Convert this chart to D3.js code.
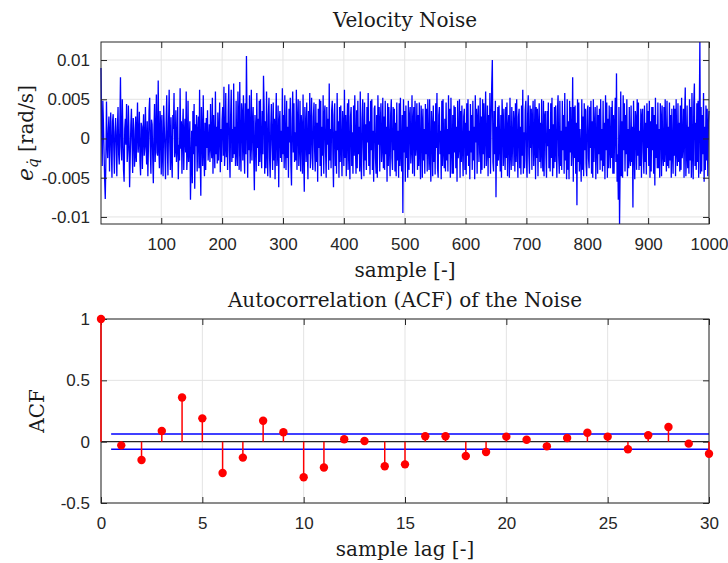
<!DOCTYPE html>
<html>
<head>
<meta charset="utf-8">
<script src="https://cdn.jsdelivr.net/npm/d3@7"></script>
<style>
  body { margin: 0; background: #fff; }
  svg { display: block; }
  .tick text { font-family: "Liberation Sans", Arial, sans-serif; font-size: 17px; fill: #262626; }
  .ttl { font-family: "DejaVu Serif", "Liberation Serif", serif; font-size: 20px; fill: #1a1a1a; }
</style>
</head>
<body>
<div id="chart"></div>
<script>
// velocity noise, in units of 1e-4 rad/s (samples 1..1000)
var NOISE_UNIT = 1e-4;
var noise = [
90,12,-35,48,20,-18,-52,-77,-30,47,-8,-25,10,28,-42,5,33,-15,-50,22,
31,-12,-45,8,26,-5,-48,14,40,-20,-33,18,78,-10,-28,50,6,-40,-55,12,
25,-8,44,-30,-15,42,3,-62,-25,17,38,-5,-44,26,11,-36,-20,28,-30,9,
46,-18,-3,34,-28,-47,20,15,-39,7,31,-22,-11,40,-6,-33,22,-48,-8,36,
52,-14,-45,24,18,-25,-57,10,44,-30,5,56,-18,-22,74,-12,-38,35,18,-46,
30,-20,-48,42,15,-15,-52,20,55,-10,-47,20,62,-5,-40,27,-22,-50,30,12,
58,-24,-15,36,-30,-10,40,-52,-8,-28,64,-13,22,-45,12,38,-40,5,25,-18,
60,-40,-18,48,-30,-10,22,-78,-32,10,-57,35,-20,44,-64,18,-10,30,-42,5,
28,-38,62,-22,-73,40,8,-35,55,-15,-48,20,-40,26,-12,36,-28,-8,18,-30,
44,-10,-25,52,-45,30,-5,-38,60,-20,15,-32,33,-28,8,46,-43,12,-30,24,
40,-22,66,-35,-10,58,-24,20,-40,35,69,-15,-50,28,62,-30,12,-25,70,-20,
15,-35,48,-18,-35,60,25,-40,72,-12,-42,45,30,-28,55,-8,-45,45,-20,105,
20,-50,38,-15,55,-32,-5,62,-28,16,40,-25,-66,30,8,-42,58,-12,25,-35,
48,-30,50,-10,-38,35,-20,80,40,-45,22,-38,60,-15,-48,30,52,-25,-50,18,
44,-8,-40,46,-28,25,-52,12,58,-35,-18,42,-62,20,35,-25,10,-30,64,-20,
30,-38,55,-12,-40,48,-25,15,-50,38,-5,52,-33,-60,25,60,-18,45,-30,8,
-28,62,-40,20,50,-35,-10,48,-42,30,12,-45,56,-20,-68,40,15,-30,46,-8,
-52,35,-20,58,-38,10,52,-25,-40,28,46,-15,-42,44,-30,20,-55,38,-12,50,
-35,48,-48,15,-22,55,-45,30,42,-18,-50,40,-8,25,-40,70,-28,12,-38,36,
48,-20,-62,30,45,-35,10,-45,58,-15,22,-50,40,-30,42,-10,-48,35,15,-35,
62,-25,30,-48,12,45,-40,50,-18,-52,28,40,-35,8,-45,42,-22,55,-10,-45,
36,-38,48,-20,15,-42,60,-30,-52,25,50,-12,-48,46,-28,18,-40,40,-5,58,
-35,22,-46,48,-15,50,-40,10,-55,38,42,-25,-45,30,-50,55,-8,40,-42,20,
45,-30,-12,52,-38,28,-40,48,-20,15,-55,45,-35,40,-10,-48,32,50,-25,-40,
40,-15,38,-42,20,-48,46,-28,10,-50,45,-35,52,-20,-42,30,-95,50,-18,35,
-55,42,-25,15,-50,48,-40,28,40,-32,-12,55,-45,20,40,-48,48,-22,-8,45,
-40,30,-35,46,-15,-52,42,20,-50,38,-28,12,-45,44,-20,38,-42,50,-10,-40,
50,-25,-55,35,15,-48,42,-30,22,-46,45,-12,58,-38,-50,30,40,-20,10,-52,
48,-35,50,-15,-38,25,-42,46,-28,12,-42,55,-20,38,-50,52,-10,-45,30,-45,
42,-18,40,-38,15,-55,48,-25,-8,50,-50,35,-30,42,-12,-48,28,38,-40,20,
-46,45,-22,50,-35,10,-52,44,-18,30,-40,48,-28,15,-52,55,-5,38,-45,25,
42,-30,-10,52,-45,28,-40,50,-20,45,-38,12,60,-35,-15,42,-48,30,-25,58,
-45,20,68,100,-30,-42,35,-20,48,-75,15,-35,40,-28,42,-10,-42,30,-50,50,
22,-35,38,-15,-40,40,-25,46,-48,12,30,-50,52,-18,-40,40,-8,-35,35,20,
-42,45,-30,50,-12,-50,28,38,-38,15,-46,42,-22,62,-45,8,-38,36,48,-28,
-50,30,55,-20,-45,42,-12,38,-40,25,48,-35,-8,50,-52,40,-25,38,-48,15,
45,-30,20,-38,50,-15,-42,48,-48,28,35,-20,-50,35,-10,46,-38,12,-42,45,
-25,52,-48,18,-38,40,-30,42,-12,-50,35,55,-22,-45,48,-35,10,-40,48,-15,
30,-45,58,-28,15,-52,50,-40,22,-52,48,-18,40,-35,-8,78,-55,40,-25,42,
-45,20,-85,50,-30,46,-42,12,-20,-55,50,-40,28,-48,45,-15,38,-32,-48,35,
42,-25,-38,40,-12,48,-45,22,-50,50,-30,15,40,-52,-8,42,-45,30,-20,38,
-40,50,-28,12,-42,48,-35,20,-52,55,-15,46,-50,25,-38,42,-10,-38,40,-25,
48,-45,30,-45,15,52,-30,83,-55,-20,-78,40,-109,-35,60,-48,22,-50,55,-15,
45,-42,30,-20,50,-48,12,-38,40,-25,-35,42,-30,15,-88,48,-10,-52,35,25,
-40,50,-22,46,-40,10,-35,38,-50,28,38,-18,-45,42,-30,20,-46,45,-12,35,
-35,48,-50,22,-42,40,-15,40,-45,30,-60,52,-25,18,-38,46,-38,12,-50,45,
25,-48,42,-20,-35,40,-30,50,-12,-42,48,-35,15,-38,46,-28,30,-50,38,-18,
-45,42,-22,38,-48,50,-15,-35,45,-30,20,-42,42,-40,52,-25,-8,38,-50,30,
65,-48,-20,42,-38,15,-45,50,-28,40,-50,58,-15,-52,46,70,-35,20,-40,45,
-30,48,-50,25,123,-45,40,-42,30,-20,58,-55,15,-40,42,-28,38,-48,20,35
];

// autocorrelation, lags 0..30
var lags = d3.range(0, 31);
var acf = [1, -0.03, -0.15, 0.087, 0.36, 0.19, -0.255, -0.13, 0.17, 0.077,
  -0.29, -0.21, 0.02, 0.006, -0.2, -0.185, 0.044, 0.044, -0.117, -0.084,
  0.041, 0.016, -0.038, 0.03, 0.073, 0.041, -0.062, 0.052, 0.12, -0.016, -0.098];
var confBound = 0.062;

var topXTicks = [100, 200, 300, 400, 500, 600, 700, 800, 900, 1000];
var topYTicks = [-0.01, -0.005, 0, 0.005, 0.01];
var botXTicks = [0, 5, 10, 15, 20, 25, 30];
var botYTicks = [-0.5, 0, 0.5, 1];

const WIDTH = 728;
const HEIGHT = 563;
const LEFT = 101, RIGHT = 709;
const AXIS_COLOR = '#262626';
const GRID_COLOR = '#e3e3e3';

var fmt = function(d){ return String(d).replace('\u2212', '-'); };

var translate = function(x, y){
  return "translate(" + x + "," + y + ")";
};

var svg = d3.select('#chart').append('svg')
  .attr('width', WIDTH)
  .attr('height', HEIGHT);

// grid lines behind the data
var drawGrid = function(x, y, xt, yt, top, bottom){
  var g = svg.append('g');
  g.selectAll('.vg').data(xt).enter().append('line')
    .attr('x1', x).attr('x2', x).attr('y1', top).attr('y2', bottom)
    .attr('stroke', GRID_COLOR);
  g.selectAll('.hg').data(yt).enter().append('line')
    .attr('x1', LEFT).attr('x2', RIGHT).attr('y1', y).attr('y2', y)
    .attr('stroke', GRID_COLOR);
  return g;
};

// ticks on all four sides plus the box
var drawAxes = function(x, y, xt, yt, top, bottom){
  var xa = svg.append('g').attr('transform', translate(0, bottom))
    .call(d3.axisBottom(x).tickValues(xt).tickSizeInner(-6).tickSizeOuter(0).tickPadding(14).tickFormat(fmt));
  var xb = svg.append('g').attr('transform', translate(0, top))
    .call(d3.axisTop(x).tickValues(xt).tickSizeInner(-6).tickSizeOuter(0).tickFormat(''));
  var ya = svg.append('g').attr('transform', translate(LEFT, 0))
    .call(d3.axisLeft(y).tickValues(yt).tickSizeInner(-6).tickSizeOuter(0).tickPadding(11).tickFormat(fmt));
  var yb = svg.append('g').attr('transform', translate(RIGHT, 0))
    .call(d3.axisRight(y).tickValues(yt).tickSizeInner(-6).tickSizeOuter(0).tickFormat(''));
  [xa, xb, ya, yb].forEach(function(a){
    a.select('.domain').remove();
    a.selectAll('.tick line').attr('stroke', AXIS_COLOR);
  });
  svg.append('rect')
    .attr('x', LEFT).attr('y', top)
    .attr('width', RIGHT - LEFT).attr('height', bottom - top)
    .attr('fill', 'none').attr('stroke', AXIS_COLOR).attr('stroke-width', 1);
};

// ---- top: velocity noise
var T_TOP = 42, T_BOT = 224;
var noiseVals = noise.map(function(v){ return v * NOISE_UNIT; });
var x1 = d3.scaleLinear().domain([1, noiseVals.length]).range([LEFT, RIGHT]);
var y1 = d3.scaleLinear().domain(d3.extent(noiseVals)).range([T_BOT, T_TOP]);

drawGrid(x1, y1, topXTicks, topYTicks, T_TOP, T_BOT);

svg.append('path')
  .datum(noiseVals)
  .attr('fill', 'none')
  .attr('stroke', '#0000ff')
  .attr('stroke-width', 1.3)
  .attr('d', d3.line().x(function(d, i){ return x1(i + 1); }).y(function(d){ return y1(d); }));

drawAxes(x1, y1, topXTicks, topYTicks, T_TOP, T_BOT);

svg.append('text').attr('class', 'ttl')
  .attr('x', (LEFT + RIGHT) / 2).attr('y', 27)
  .attr('text-anchor', 'middle').text('Velocity Noise');
svg.append('text').attr('class', 'ttl')
  .attr('x', (LEFT + RIGHT) / 2).attr('y', 277)
  .attr('text-anchor', 'middle').text('sample [-]');

var yl = svg.append('text').attr('class', 'ttl')
  .attr('transform', translate(33, (T_TOP + T_BOT) / 2) + ' rotate(-90)')
  .attr('text-anchor', 'middle');
yl.append('tspan').attr('font-style', 'italic').attr('font-size', 22).text('e');
yl.append('tspan').attr('font-style', 'italic').attr('font-size', 15).attr('dy', 5).text('q\u0307');
yl.append('tspan').attr('dy', -5).text(' [rad/s]');

// ---- bottom: autocorrelation
var B_TOP = 319, B_BOT = 503;
var x2 = d3.scaleLinear().domain([0, 30]).range([LEFT, RIGHT]);
var y2 = d3.scaleLinear().domain([-0.5, 1]).range([B_BOT, B_TOP]);

drawGrid(x2, y2, botXTicks, botYTicks, B_TOP, B_BOT);

svg.append('line')
  .attr('x1', LEFT).attr('x2', RIGHT).attr('y1', y2(0)).attr('y2', y2(0))
  .attr('stroke', AXIS_COLOR).attr('stroke-width', 1.2);

[confBound, -confBound].forEach(function(c){
  svg.append('line')
    .attr('x1', x2(0.5)).attr('x2', x2(30)).attr('y1', y2(c)).attr('y2', y2(c))
    .attr('stroke', '#0000ff').attr('stroke-width', 1.5);
});

var stems = svg.append('g');
stems.selectAll('line').data(acf).enter().append('line')
  .attr('x1', function(d, i){ return x2(lags[i]); })
  .attr('x2', function(d, i){ return x2(lags[i]); })
  .attr('y1', y2(0))
  .attr('y2', function(d){ return y2(d); })
  .attr('stroke', '#ff0000').attr('stroke-width', 1.5);

drawAxes(x2, y2, botXTicks, botYTicks, B_TOP, B_BOT);

stems.selectAll('circle').data(acf).enter().append('circle')
  .attr('cx', function(d, i){ return x2(lags[i]); })
  .attr('cy', function(d){ return y2(d); })
  .attr('r', 4.2)
  .attr('fill', '#ff0000');
stems.raise();

svg.append('text').attr('class', 'ttl')
  .attr('x', (LEFT + RIGHT) / 2).attr('y', 307)
  .attr('text-anchor', 'middle').text('Autocorrelation (ACF) of the Noise');
svg.append('text').attr('class', 'ttl')
  .attr('x', (LEFT + RIGHT) / 2).attr('y', 556)
  .attr('text-anchor', 'middle').text('sample lag [-]');
svg.append('text').attr('class', 'ttl')
  .attr('transform', translate(44, (B_TOP + B_BOT) / 2) + ' rotate(-90)')
  .attr('text-anchor', 'middle').text('ACF');
</script>
</body>
</html>
